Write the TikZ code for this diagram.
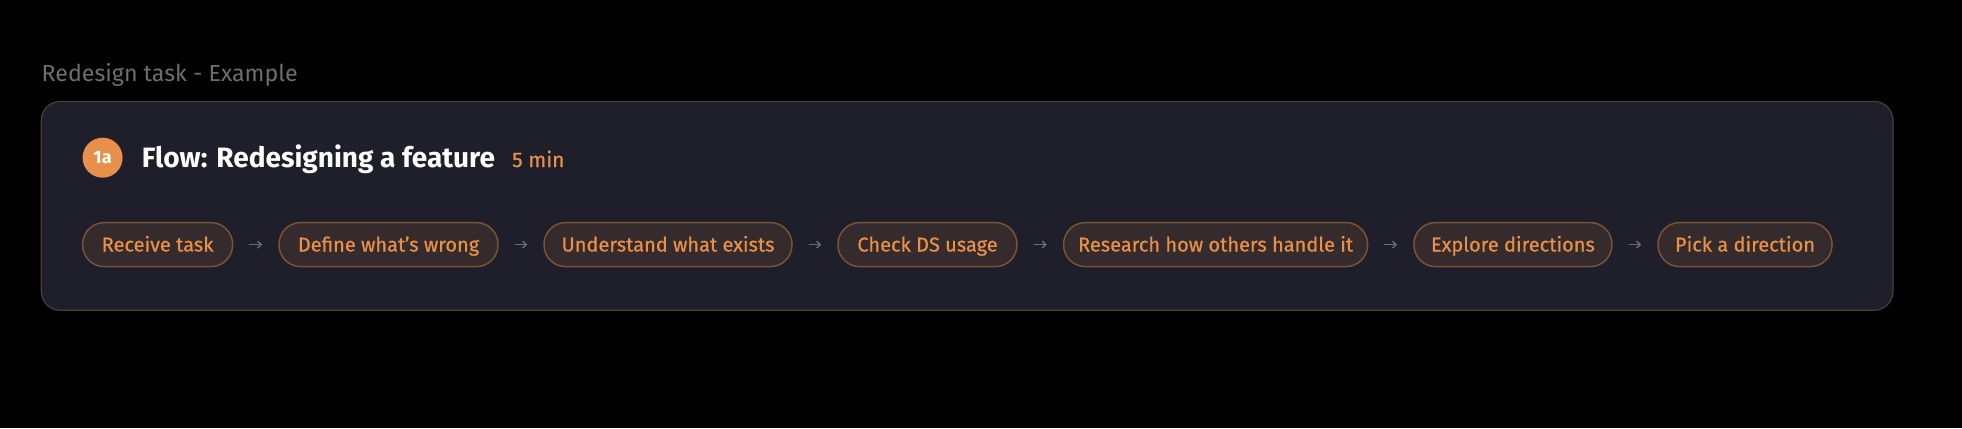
\documentclass[tikz,border=0pt]{standalone}
\usepackage{fontspec}
\setmainfont{Fira Sans}
\usetikzlibrary{arrows.meta}
\definecolor{capgray}{HTML}{6E6E6E}
\definecolor{cardfill}{HTML}{1F1E2B}
\definecolor{cardline}{HTML}{4E3D32}
\definecolor{pillfill}{HTML}{352A2C}
\definecolor{pillline}{HTML}{7A5236}
\definecolor{accent}{HTML}{E8904A}
\definecolor{arrowgray}{HTML}{6B6B7A}
\tikzset{
  pill/.style={draw=pillline, line width=0.75pt, fill=pillfill, text=accent,
    rounded corners=10.8pt, minimum height=22pt, inner xsep=0pt, inner ysep=0pt,
    text height=6.9pt, text depth=0pt,
    font=\fontsize{10}{12}\selectfont\addfontfeatures{FakeBold=0.6}},
  flowarrow/.style={draw=arrowgray, line width=0.7pt, shorten <=8pt, shorten >=8pt,
    -{Straight Barb[length=1.8pt,width=3.4pt]}},
  card/.style={draw=cardline, line width=0.6pt, fill=cardfill, rounded corners=9.5pt},
  badge/.style={circle, fill=accent, text=white, minimum size=20pt, inner sep=0pt,
    font=\fontsize{9}{11}\selectfont\bfseries},
}
\begin{document}
\begin{tikzpicture}[x=0.5pt,y=-0.5pt]
\fill[black] (0,0) rectangle (1962,428);
\useasboundingbox (0,0) rectangle (1962,428);
\node[anchor=base west, inner sep=0pt, text=capgray, font=\fontsize{11.6}{13}\selectfont] (cap) at (41.3,81.5) {Redesign task - Example};
\draw[card] (41.3,101.4) rectangle (1893,310.3);
\node[badge] (badge) at (102.6,157.7) {1a};
\node[anchor=base west, inner sep=0pt, text=white, font=\fontsize{14}{16}\selectfont\bfseries] (title) at (141.4,167) {Flow: Redesigning a feature};
\node[anchor=base west, inner sep=0pt, text=accent, font=\fontsize{10.5}{12}\selectfont\addfontfeatures{FakeBold=0.6}] (dur) at (511.8,167) {5 min};
\node[pill, minimum width=75pt] (s1) at (157.6,244.6) {Receive task};
\node[pill, minimum width=109.5pt] (s2) at (388.5,244.6) {Define what’s wrong};
\node[pill, minimum width=124pt] (s3) at (668,244.6) {Understand what exists};
\node[pill, minimum width=89.5pt] (s4) at (927.5,244.6) {Check DS usage};
\node[pill, minimum width=152pt] (s5) at (1215.6,244.6) {Research how others handle it};
\node[pill, minimum width=99pt] (s6) at (1512.9,244.6) {Explore directions};
\node[pill, minimum width=87pt] (s7) at (1745,244.6) {Pick a direction};
\foreach \a/\b in {s1/s2,s2/s3,s3/s4,s4/s5,s5/s6,s6/s7}
  \draw[flowarrow] (\a) -- (\b);
\end{tikzpicture}
\end{document}
